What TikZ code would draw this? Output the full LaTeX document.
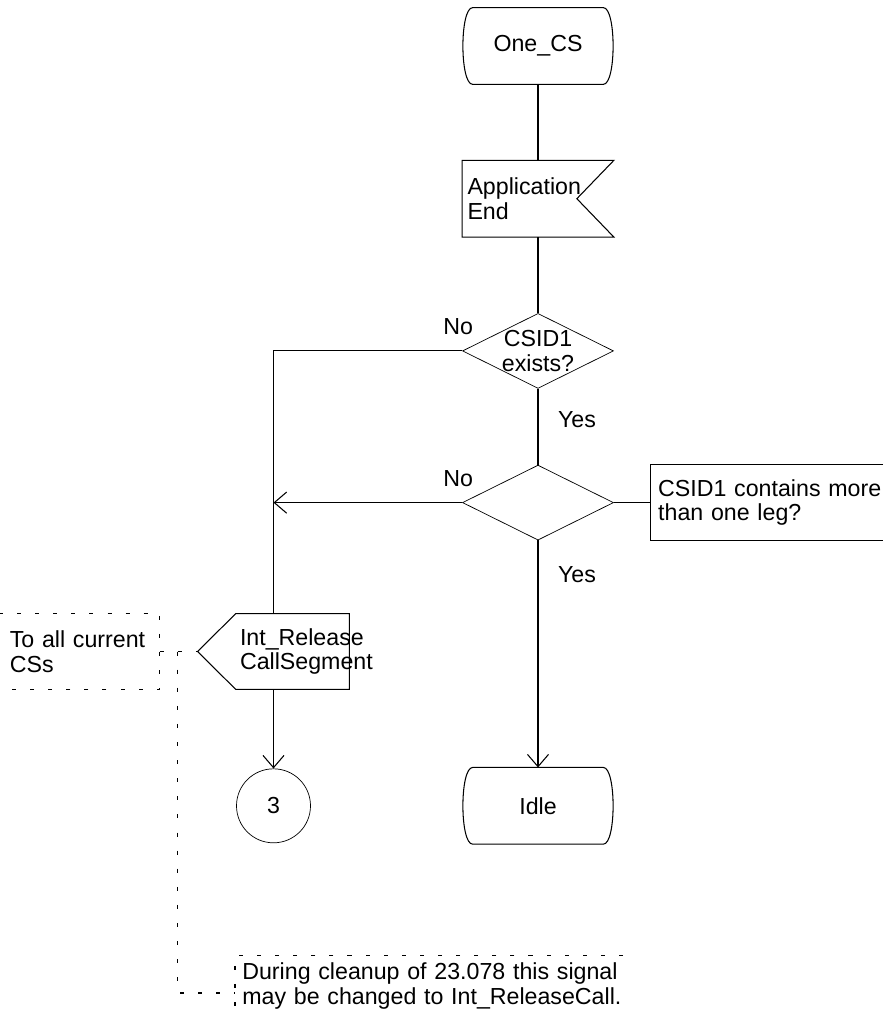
\documentclass[tikz,border=0pt]{standalone}
\usepackage{fontspec}
\setmainfont{Liberation Sans}
\usetikzlibrary{arrows.meta,positioning,shapes.geometric,calc}
\tikzset{
  sdl/.style={font=\fontsize{13.2}{14}\selectfont},
  stbox/.style={sdl, rectangle, minimum width=3cm, minimum height=1.52cm, inner sep=0pt},
  inbox/.style={sdl, rectangle, align=left, text width=2.82cm, inner xsep=0.1cm, minimum height=1.52cm},
  outbox/.style={rectangle, minimum width=3.02cm, minimum height=1.5cm, inner sep=0pt},
  decn/.style={diamond, draw, minimum width=3.02cm, minimum height=1.5cm, inner sep=0pt},
  qbox/.style={sdl, rectangle, align=left, text width=4.6cm, inner xsep=0.14cm, minimum height=1.5cm},
  conn/.style={sdl, circle, draw, minimum size=1.48cm, inner sep=0pt},
  lbl/.style={sdl, inner sep=0pt},
  cmtbox/.style={sdl, rectangle, align=left, inner ysep=0pt},
  flow/.style={line width=0.6pt},
  farr/.style={flow, -{Straight Barb[length=7pt,width=12pt]}},
  cmt/.style={line width=0.6pt, dash pattern=on 2.3pt off 8pt},
}
\begin{document}
\begin{tikzpicture}[node distance=1.52cm]
  \useasboundingbox (0,0) rectangle (17.66,-20.58);
  \coordinate (rim) at (17.66,0);
  % main column
  \node[stbox] (onecs) at (10.76,-0.92) {One\_CS};
  \node[inbox, below=of onecs] (appin) {Application\\End};
  \node[decn, below=of appin] (q1) {};
  \node[lbl, align=center] (q1t) at (q1) {CSID1\\exists?};
  \node[decn, below=of q1] (q2) {};
  \node[qbox, right=0.74cm of q2] (q2box) {CSID1 contains more\\than one leg?};
  \node[stbox, below=4.54cm of q2] (idle) {Idle};
  % left branch
  \node[outbox] (irel) at (5.47,-13.03) {};
  \node[lbl, anchor=west, align=left] (irelt) at ([xshift=0.84cm]irel.west) {Int\_Release\\CallSegment};
  \node[conn] (c3) at (irel |- idle) {3};
  % comments
  \node[cmtbox, text width=2.78cm, inner xsep=0.21cm, minimum height=1.5cm, left=0.76cm of irel] (cmt1) {To all current\\CSs};
  \node[cmtbox, text width=8.4cm, inner xsep=0.14cm, minimum height=1.2cm, anchor=west] (cmt2) at (4.7,-19.72) {During cleanup of 23.078 this signal\\may be changed to Int\_ReleaseCall.};
  % symbol outlines
  \foreach \s in {onecs,idle}
    \draw[flow] ([xshift=0.2cm]\s.north west) -- ([xshift=-0.2cm]\s.north east)
      .. controls ([xshift=0.06cm]\s.north east) and ([xshift=0.06cm]\s.south east) .. ([xshift=-0.2cm]\s.south east)
      -- ([xshift=0.2cm]\s.south west)
      .. controls ([xshift=-0.06cm]\s.south west) and ([xshift=-0.06cm]\s.north west) .. cycle;
  \draw[flow] (appin.north west) -- (appin.north east) -- ([xshift=-0.74cm]appin.east) -- (appin.south east) -- (appin.south west) -- cycle;
  \draw[flow] (irel.west) -- ([xshift=0.76cm]irel.north west) -- (irel.north east) -- (irel.south east) -- ([xshift=0.76cm]irel.south west) -- cycle;
  \draw[flow] (q2box.north west -| rim) -- (q2box.north west) -- (q2box.south west) -- (q2box.south west -| rim);
  \draw[cmt] (cmt1.north west) -- (cmt1.north east) -- (cmt1.south east) -- (cmt1.south west);
  \draw[cmt] ([xshift=7.76cm]cmt2.north west) -- (cmt2.north west) -- (cmt2.south west);
  % connectors
  \draw[flow] (onecs) -- (appin);
  \draw[flow] (appin) -- (q1);
  \draw[flow] (q1) -- (q2);
  \draw[farr] (q2) -- (idle);
  \draw[flow] (q1.west) -| (irel.north);
  \draw[farr] (q2.west) -- (q2.west -| irel.north);
  \draw[flow] (q2.east) -- (q2box.west);
  \draw[farr] (irel) -- (c3);
  \draw[cmt] (cmt1.east) -- (irel.west);
  \draw[cmt] ([xshift=-0.4cm]irel.west) |- ([yshift=-0.14cm]cmt2.west);
  % branch labels
  \node[lbl] (no1) at ($(q1.west)+(-0.08,0.48)$) {No};
  \node[lbl] (yes1) at ($(q1.south)+(0.78,-0.62)$) {Yes};
  \node[lbl] (no2) at ($(q2.west)+(-0.08,0.48)$) {No};
  \node[lbl] (yes2) at ($(q2.south)+(0.78,-0.68)$) {Yes};
\end{tikzpicture}
\end{document}
